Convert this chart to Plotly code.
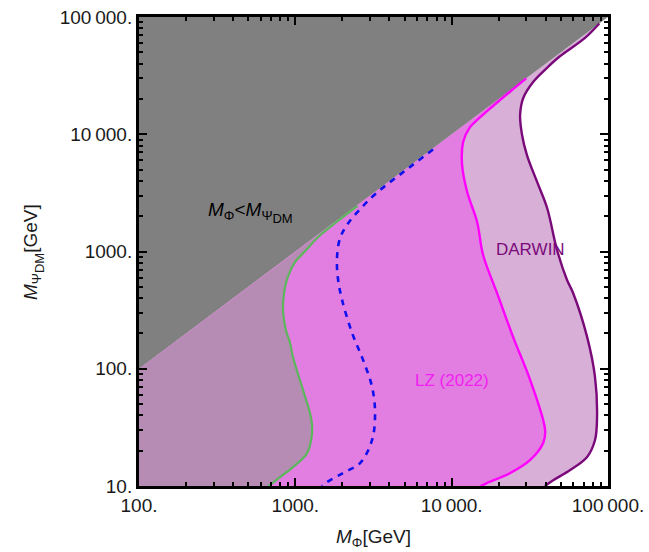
import plotly.graph_objects as go

# Exclusion contours in the (M_Phi, M_Psi_DM) plane, ordered from the
# kinematic diagonal down to the bottom of the frame.
green_mphi = [2500, 1800, 1400, 1150, 1000, 900, 855, 834, 870, 925, 966, 1119, 1241, 1279, 1270, 1188, 966, 798, 689, 670]
green_mpsi = [2450, 1750, 1330, 1000, 820, 620, 480, 317, 214, 166, 126, 66, 42, 33, 26, 19, 14.5, 11.9, 10.2, 10]

blue_mphi = [7600, 5000, 3300, 2600, 2150, 1933, 1849, 1870, 1991, 2307, 2711, 3097, 3236, 3097, 2595, 2017, 1596, 1480]
blue_mpsi = [7400, 4850, 3150, 2300, 1700, 1300, 900, 600, 386, 202, 119, 70, 42, 24.7, 15.7, 12.9, 10.8, 10]

lz_mphi = [30000, 24000, 18000, 14800, 13100, 11840, 11660, 12570, 14550, 15890, 19500, 24700, 31800, 39600, 38500, 31800, 23700, 16800, 15300]
lz_mpsi = [30000, 23500, 17000, 13500, 11500, 8590, 5470, 3215, 1785, 933, 443, 187, 80, 30, 23.3, 16.7, 12.9, 10.6, 10]

darwin_mphi = [88000, 71000, 49000, 40000, 33200, 28700, 27400, 28200, 30300, 35200, 40800, 47200, 54700, 59800, 73500, 82600, 85100, 82600, 73500, 57300, 44600, 39500]
darwin_mpsi = [88000, 66000, 46000, 36000, 27900, 20400, 14600, 9860, 6650, 3920, 2350, 1030, 571, 443, 187, 85, 38.8, 24.7, 17.7, 13.7, 11.2, 10]

x_ticks = [100, 1000, 10000, 100000]
x_ticktext = ["100.", "1000.", "10\u2009000.", "100\u2009000."]
y_ticks = [10, 100, 1000, 10000, 100000]
y_ticktext = ["10.", "100.", "1000.", "10\u2009000.", "100\u2009000."]

FONT = "Liberation Sans, Arial, sans-serif"
PSI_DM = "Ψ<sub><span style='font-size:13px'>DM</span></sub>"

fig = go.Figure()


def excluded_region(xs, ys, color):
    # region to the left of a contour; the extra vertices sit outside the frame
    px = list(xs) + [xs[-1], 1]
    py = list(ys) + [1, 1]
    fig.add_trace(go.Scatter(x=px, y=py, mode="lines", fill="toself",
                             fillcolor=color, line=dict(width=0, shape="spline"),
                             hoverinfo="skip", showlegend=False))


excluded_region(darwin_mphi, darwin_mpsi, "#d8afd7")
excluded_region(lz_mphi, lz_mpsi, "#e27de1")
excluded_region(green_mphi, green_mpsi, "#b68cb4")

# kinematically forbidden wedge M_Phi < M_Psi_DM
fig.add_trace(go.Scatter(x=[1, 1e6, 1], y=[1, 1e6, 1e6], mode="lines", fill="toself",
                         fillcolor="#808080", line=dict(width=0),
                         hoverinfo="skip", showlegend=False))

fig.add_trace(go.Scatter(x=green_mphi, y=green_mpsi, mode="lines",
                         line=dict(color="#5cb65c", width=2.2, shape="spline"),
                         showlegend=False))
fig.add_trace(go.Scatter(x=blue_mphi, y=blue_mpsi, mode="lines",
                         line=dict(color="#1010ee", width=2.6, shape="spline", dash="6px,6px"),
                         showlegend=False))
fig.add_trace(go.Scatter(x=lz_mphi, y=lz_mpsi, mode="lines",
                         line=dict(color="#ff00ff", width=2.4, shape="spline"),
                         showlegend=False))
fig.add_trace(go.Scatter(x=darwin_mphi, y=darwin_mpsi, mode="lines",
                         line=dict(color="#7a0a7a", width=2.4, shape="spline"),
                         showlegend=False))

minor_x = [m * 10 ** e for e in range(2, 5) for m in range(2, 10)]
minor_y = [m * 10 ** e for e in range(1, 5) for m in range(2, 10)]

axis_common = dict(
    type="log", showgrid=False, zeroline=False,
    showline=True, linecolor="black", linewidth=3, mirror="allticks",
    ticks="inside", ticklen=8, tickwidth=2, tickcolor="black",
    tickfont=dict(family=FONT, size=19, color="#1a1a1a"),
)

fig.update_xaxes(range=[2, 5], tickvals=x_ticks, ticktext=x_ticktext,
                 minor=dict(tickvals=minor_x, ticks="inside", ticklen=4, tickwidth=1.5, tickcolor="black"),
                 **axis_common)
fig.update_yaxes(range=[1, 5], tickvals=y_ticks, ticktext=y_ticktext,
                 minor=dict(tickvals=minor_y, ticks="inside", ticklen=4, tickwidth=1.5, tickcolor="black"),
                 **axis_common)

annotations = [
    dict(text="<i>M</i><sub>Φ</sub>[GeV]", xref="paper", yref="paper", x=0.5, y=-0.11,
         xanchor="center", yanchor="middle", showarrow=False,
         font=dict(family=FONT, size=19, color="#1a1a1a")),
    dict(text="<i>M</i><sub>" + PSI_DM + "</sub>[GeV]", xref="paper", yref="paper", x=-0.225, y=0.5,
         xanchor="center", yanchor="middle", textangle=-90, showarrow=False,
         font=dict(family=FONT, size=19, color="#1a1a1a")),
    dict(text="<i>M</i><sub>Φ</sub>&lt;<i>M</i><sub>" + PSI_DM + "</sub>", x=2.71, y=3.33,
         xref="x", yref="y", showarrow=False,
         font=dict(family=FONT, size=19, color="black")),
    dict(text="DARWIN", x=4.502, y=3.013, xref="x", yref="y", showarrow=False,
         font=dict(family=FONT, size=17, color="#7a0a7a")),
    dict(text="LZ (2022)", x=4.003, y=1.904, xref="x", yref="y", showarrow=False,
         font=dict(family=FONT, size=17, color="#f020f0")),
]

fig.update_layout(
    width=649, height=552,
    margin=dict(l=139, r=41, t=17, b=66, autoexpand=False),
    plot_bgcolor="white", paper_bgcolor="white",
    annotations=annotations,
    showlegend=False,
)

fig.write_html("out.html")
